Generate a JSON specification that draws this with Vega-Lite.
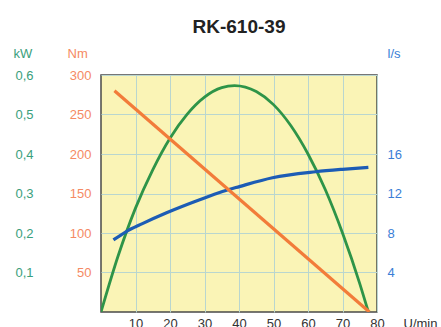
{
  "$schema": "https://vega.github.io/schema/vega-lite/v6.json",
  "width": 276,
  "height": 237,
  "autosize": {"type": "none"},
  "padding": {"left": 101, "top": 75, "right": 64, "bottom": 15},
  "background": "#ffffff",
  "config": {
    "font": "Liberation Sans",
    "view": {"fill": "#faf4b6", "stroke": "#4a4a4a", "strokeWidth": 1.5}
  },
  "title": {
    "text": "RK-610-39",
    "fontSize": 19,
    "fontWeight": "bold",
    "color": "#222222",
    "anchor": "middle",
    "frame": "group",
    "offset": -5,
    "baseline": "alphabetic"
  },
  "datasets": {
    "power": [
      {"n": 0, "v": 0},
      {"n": 5, "v": 0.143},
      {"n": 10, "v": 0.263},
      {"n": 15, "v": 0.36},
      {"n": 20, "v": 0.44},
      {"n": 25, "v": 0.501},
      {"n": 30, "v": 0.544},
      {"n": 35, "v": 0.568},
      {"n": 38.7, "v": 0.573},
      {"n": 45, "v": 0.558},
      {"n": 50, "v": 0.525},
      {"n": 55, "v": 0.472},
      {"n": 60, "v": 0.4},
      {"n": 65, "v": 0.31},
      {"n": 70, "v": 0.2},
      {"n": 75, "v": 0.072},
      {"n": 77.5, "v": 0}
    ],
    "torque": [
      {"n": 3.9, "v": 280},
      {"n": 77.8, "v": 0}
    ],
    "flow": [
      {"n": 3.6, "v": 7.3},
      {"n": 7.1, "v": 8.1},
      {"n": 12, "v": 8.95},
      {"n": 19, "v": 10.05},
      {"n": 28.6, "v": 11.37},
      {"n": 35.2, "v": 12.2},
      {"n": 40.1, "v": 12.7},
      {"n": 49.7, "v": 13.6},
      {"n": 62.2, "v": 14.2},
      {"n": 70, "v": 14.45},
      {"n": 77.5, "v": 14.65}
    ]
  },
  "encoding": {
    "x": {
      "field": "n",
      "type": "quantitative",
      "scale": {"domain": [0, 80], "nice": false, "zero": false},
      "axis": {
        "values": [10, 20, 30, 40, 50, 60, 70, 80],
        "grid": true,
        "gridColor": "#b9d6cf",
        "gridWidth": 1,
        "domain": false,
        "ticks": false,
        "labelPadding": 5,
        "labelFontSize": 13,
        "labelColor": "#333333",
        "labelFlush": false,
        "labelOverlap": false,
        "title": "U/min",
        "titleX": 302,
        "titleY": 15,
        "titleAlign": "left",
        "titleBaseline": "alphabetic",
        "titleFontWeight": "normal",
        "titleFontSize": 13,
        "titleColor": "#333333"
      }
    }
  },
  "layer": [
    {
      "data": {"name": "power"},
      "mark": {"type": "line", "color": "#2e9448", "strokeWidth": 2.8, "interpolate": "monotone", "clip": true},
      "encoding": {
        "y": {
          "field": "v",
          "type": "quantitative",
          "scale": {"domain": [0, 0.6], "nice": false},
          "axis": {
            "orient": "left",
            "values": [0.1, 0.2, 0.3, 0.4, 0.5, 0.6],
            "grid": true,
            "gridColor": "#b9d6cf",
            "gridWidth": 1,
            "domain": false,
            "ticks": false,
            "labelPadding": 68,
            "labelFontSize": 13,
            "labelColor": "#3aa07c",
            "labelOverlap": false,
            "labelExpr": "replace(format(datum.value, '.1f'), '.', ',')",
            "title": "kW",
            "titleAngle": 0,
            "titleX": -88,
            "titleY": -18,
            "titleAlign": "left",
            "titleBaseline": "alphabetic",
            "titleColor": "#3aa07c",
            "titleFontWeight": "normal",
            "titleFontSize": 13
          }
        }
      }
    },
    {
      "data": {"name": "flow"},
      "mark": {"type": "line", "color": "#1c5cb5", "strokeWidth": 3.2, "interpolate": "monotone", "clip": true},
      "encoding": {
        "y": {
          "field": "v",
          "type": "quantitative",
          "scale": {"domain": [0, 24], "nice": false},
          "axis": {
            "orient": "right",
            "values": [4, 8, 12, 16],
            "grid": false,
            "domain": false,
            "ticks": false,
            "labelPadding": 10,
            "labelFontSize": 13,
            "labelColor": "#3a7ed6",
            "labelOverlap": false,
            "title": "l/s",
            "titleAngle": 0,
            "titleX": 10,
            "titleY": -18,
            "titleAlign": "left",
            "titleBaseline": "alphabetic",
            "titleColor": "#3a7ed6",
            "titleFontWeight": "normal",
            "titleFontSize": 13
          }
        }
      }
    },
    {
      "data": {"name": "torque"},
      "mark": {"type": "line", "color": "#f27c3a", "strokeWidth": 3.2, "clip": true},
      "encoding": {
        "y": {
          "field": "v",
          "type": "quantitative",
          "scale": {"domain": [0, 300], "nice": false},
          "axis": {
            "orient": "left",
            "values": [50, 100, 150, 200, 250, 300],
            "grid": false,
            "domain": false,
            "ticks": false,
            "labelPadding": 10,
            "labelFontSize": 13,
            "labelColor": "#f58a64",
            "labelOverlap": false,
            "title": "Nm",
            "titleAngle": 0,
            "titleX": -34,
            "titleY": -18,
            "titleAlign": "left",
            "titleBaseline": "alphabetic",
            "titleColor": "#f58a64",
            "titleFontWeight": "normal",
            "titleFontSize": 13
          }
        }
      }
    }
  ],
  "resolve": {"scale": {"y": "independent"}}
}
